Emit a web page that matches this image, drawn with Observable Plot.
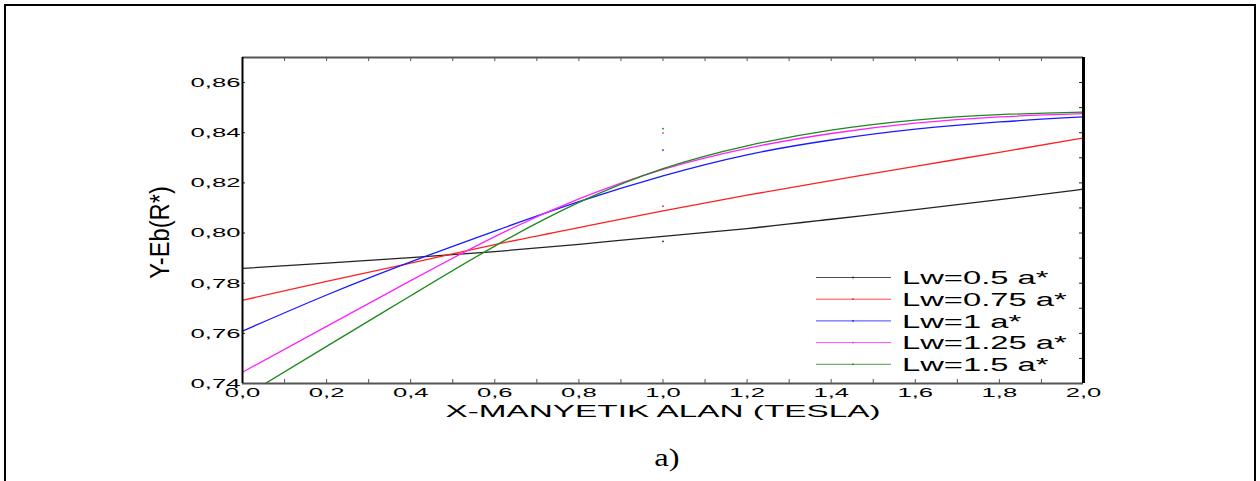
<!DOCTYPE html>
<html><head><meta charset="utf-8">
<script src="https://cdn.jsdelivr.net/npm/d3@7"></script>
<script src="https://cdn.jsdelivr.net/npm/@observablehq/plot@0.6"></script>
<style>
html,body{margin:0;padding:0;overflow:hidden;background:#fff;width:1260px;height:481px;}
#wrap{position:relative;width:1260px;height:481px;}
#border{position:absolute;left:4px;top:4px;width:1252px;height:560px;border:2px solid #000;box-sizing:border-box;pointer-events:none;z-index:2;}
#chart{position:absolute;left:0;top:0;}
#caption{position:absolute;left:667px;top:445px;font-family:"Liberation Serif","Times New Roman",serif;font-size:26px;line-height:26px;transform:translateX(-50%) scaleX(1.25);white-space:nowrap;color:#000;}
</style></head>
<body><div id="wrap"><div id="chart"></div><div id="caption">a)</div><div id="border"></div></div>
<script>
// ---- data ----
const xValues = [0, 0.2, 0.4, 0.6, 0.8, 1.0, 1.2, 1.4, 1.6, 1.8, 2.0];
const seriesNames = ["Lw=0.5 a*", "Lw=0.75 a*", "Lw=1 a*", "Lw=1.25 a*", "Lw=1.5 a*"];
const seriesColors = ["#222222", "#ff2020", "#1a1aff", "#ff22ff", "#1a8a1a"];
const lw050 = [0.7859, 0.7880, 0.7902, 0.7926, 0.7955, 0.7987, 0.8018, 0.8055, 0.8093, 0.8133, 0.8175];
const lw075 = [0.7732, 0.7807, 0.7880, 0.7954, 0.8022, 0.8088, 0.8151, 0.8209, 0.8266, 0.8322, 0.8379];
const lw100 = [0.7609, 0.7753, 0.7885, 0.8008, 0.8125, 0.8228, 0.8312, 0.8371, 0.8414, 0.8443, 0.8463];
const lw125 = [0.7445, 0.7628, 0.7810, 0.7986, 0.8136, 0.8254, 0.8338, 0.8397, 0.8438, 0.8463, 0.8476];
const lw150 = [0.7345, 0.7548, 0.7750, 0.7948, 0.8122, 0.8257, 0.8348, 0.8410, 0.8450, 0.8472, 0.8482];
const markerX = 1.0;
const markerValues = [0.7967, 0.8107, 0.8331, 0.8399, 0.8416];
const xDomain = [0, 2];
const yDomain = [0.74, 0.87];
const xMajorTicks = [0, 0.2, 0.4, 0.6, 0.8, 1.0, 1.2, 1.4, 1.6, 1.8, 2.0];
const xMinorTicks = [0.1, 0.2, 0.3, 0.4, 0.5, 0.6, 0.7, 0.8, 0.9, 1.0, 1.1, 1.2, 1.3, 1.4, 1.5, 1.6, 1.7, 1.8, 1.9];
const yMajorTicks = [0.74, 0.76, 0.78, 0.80, 0.82, 0.84, 0.86];
const yMinorTicks = [0.75, 0.76, 0.77, 0.78, 0.79, 0.80, 0.81, 0.82, 0.83, 0.84, 0.85, 0.86];
const xLabel = "X-MANYETIK ALAN (TESLA)";
const yLabel = "Y-Eb(R*)";

const allSeries = [lw050, lw075, lw100, lw125, lw150];
const rows = [];
allSeries.forEach((vals, i) => vals.forEach((v, j) => rows.push({series: seriesNames[i], x: xValues[j], y: v})));
const markerRows = markerValues.map((v, i) => ({series: seriesNames[i], x: markerX, y: v}));

const W = 1260, H = 430;
const mL = 242, mR = 177, mT = 57, mB = 47;
const innerW = W - mL - mR, innerH = H - mT - mB;
const comma = (d, n) => d.toFixed(n).replace(".", ",");

const svg = Plot.plot({
  width: W, height: H,
  marginLeft: mL, marginRight: mR, marginTop: mT, marginBottom: mB,
  style: {fontFamily: "'Liberation Sans', Arial, sans-serif", fontSize: "13.5px", color: "#000", background: "transparent"},
  x: {domain: xDomain, ticks: xMajorTicks, tickFormat: d => comma(d, 1), tickSize: 0, tickPadding: 4, label: null},
  y: {domain: yDomain, ticks: yMajorTicks, tickFormat: d => comma(d, 2), tickSize: 0, tickPadding: 2, label: null},
  color: {domain: seriesNames, range: seriesColors},
  marks: [
    Plot.line(rows, {x: "x", y: "y", z: "series", stroke: "series", strokeWidth: 1.3, curve: "natural", clip: true}),
    Plot.dot(markerRows, {x: "x", y: "y", fill: "series", r: 0.9}),
    Plot.ruleX(xMinorTicks, {stroke: "#555", strokeWidth: 1, insetTop: innerH - 4}),
    Plot.ruleX(xMinorTicks, {stroke: "#555", strokeWidth: 1, insetBottom: innerH - 4}),
    Plot.ruleY(yMinorTicks, {stroke: "#222", strokeWidth: 1, insetLeft: innerW - 4}),
    Plot.ruleY(yMajorTicks, {stroke: "#222", strokeWidth: 1, insetRight: innerW - 3}),
    Plot.ruleY([yDomain[1]], {stroke: "#555", strokeWidth: 2}),
    Plot.ruleY([yDomain[0]], {stroke: "#555", strokeWidth: 2}),
    Plot.ruleX([xDomain[0]], {stroke: "#000", strokeWidth: 2}),
    Plot.ruleX([xDomain[1]], {stroke: "#000", strokeWidth: 3}),
    Plot.text([xLabel], {text: d => d, frameAnchor: "bottom", textAnchor: "middle", dy: 33, fontSize: 16.5, fill: "#000"}),
    Plot.text([yLabel], {text: d => d, frameAnchor: "left", textAnchor: "middle", rotate: -90, dx: -82, dy: 12, fontSize: 16, fill: "#000"})
  ]
});

// horizontal stretch of the texts, as in the reference
d3.select(svg).selectAll("text").each(function() {
  const t = d3.select(this);
  const s = t.text();
  const tr = t.attr("transform") || "";
  const x0 = +(t.attr("x") || 0) || 0;
  if (s === yLabel) {
    t.attr("transform", tr + " scale(1.48,1.74)");
  } else {
    const sx = s === xLabel ? 2.02 : 1.9;
    t.attr("transform", `${tr} translate(${x0},0) scale(${sx},1) translate(${-x0},0)`);
  }
});

// legend
const lg = d3.select(svg).append("g")
  .attr("font-family", "'Liberation Sans', Arial, sans-serif")
  .attr("font-size", 18.6).attr("fill", "#000").attr("text-anchor", "start");
const legendTop = 277.5, legendStep = 21.7;
seriesNames.forEach((name, i) => {
  const yy = legendTop + i * legendStep;
  lg.append("line").attr("x1", 816).attr("x2", 891).attr("y1", yy).attr("y2", yy)
    .attr("stroke", seriesColors[i]).attr("stroke-width", 1).attr("opacity", 0.8);
  lg.append("circle").attr("cx", 853).attr("cy", yy).attr("r", 0.9).attr("fill", seriesColors[i]);
  lg.append("text").attr("text-anchor", "start").attr("transform", `translate(902,${yy + 6.7}) scale(1.76,1)`).text(name);
});

document.getElementById("chart").appendChild(svg);
</script>
</body></html>
